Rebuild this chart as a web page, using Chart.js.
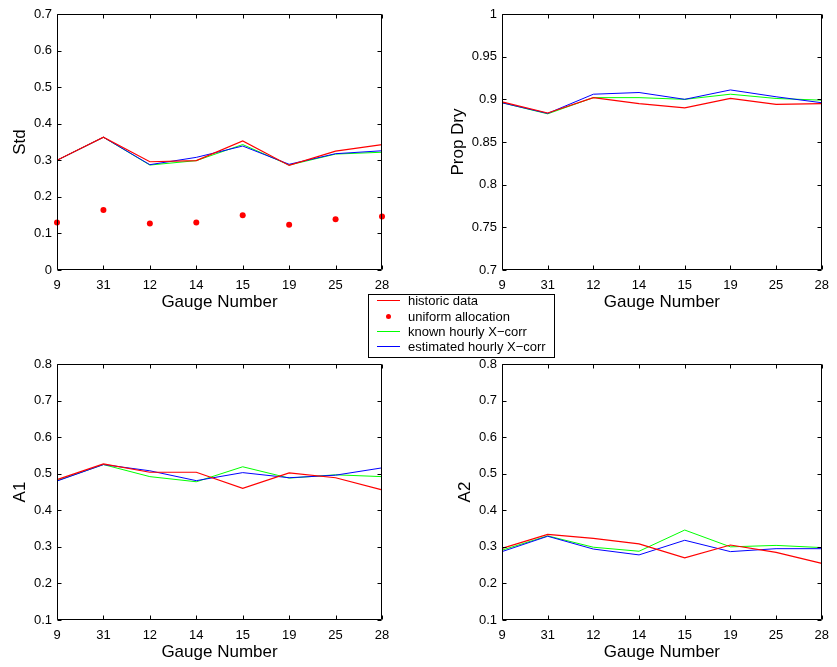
<!DOCTYPE html>
<html>
<head>
<meta charset="utf-8">
<script src="https://cdn.jsdelivr.net/npm/chart.js@4"></script>
<style>
  html, body { margin: 0; padding: 0; background: #fff; }
  body { width: 837px; height: 667px; position: relative; overflow: hidden; font-family: "Liberation Sans", Arial, sans-serif; }
  .pane { position: absolute; }
  #legend { position: absolute; left: 368px; top: 294px; width: 185px; height: 62px; border: 1px solid #000; background: #fff; }
  .row { position: absolute; left: 0; height: 15px; font-size: 13px; line-height: 15px; color: #000; }
  .row .txt { position: absolute; left: 39px; white-space: nowrap; top: 0; }
  .row .ln { position: absolute; left: 8px; width: 23px; top: 7px; height: 1px; }
  .row .dot { position: absolute; left: 17px; top: 5px; width: 5px; height: 5px; border-radius: 50%; background: #ff0000; }
</style>
</head>
<body>
<div class="pane" style="left:0px;top:0px;"><canvas id="c1" width="410" height="320"></canvas></div>
<div class="pane" style="left:420px;top:0px;"><canvas id="c2" width="417" height="320"></canvas></div>
<div class="pane" style="left:0px;top:340px;"><canvas id="c3" width="410" height="327"></canvas></div>
<div class="pane" style="left:420px;top:340px;"><canvas id="c4" width="417" height="327"></canvas></div>
<div id="legend">
  <div class="row" style="top:-2px;"><div class="ln" style="background:#ff0000"></div><span class="txt">historic data</span></div>
  <div class="row" style="top:14px;"><div class="dot"></div><span class="txt">uniform allocation</span></div>
  <div class="row" style="top:29px;"><div class="ln" style="background:#00ff00"></div><span class="txt">known hourly X&#8722;corr</span></div>
  <div class="row" style="top:44px;"><div class="ln" style="background:#0000ff"></div><span class="txt">estimated hourly X&#8722;corr</span></div>
</div>
<script>
const gauges = ['9', '31', '12', '14', '15', '19', '25', '28'];

const stdHistoric  = [0.300, 0.363, 0.296, 0.299, 0.353, 0.286, 0.325, 0.343];
const stdUniform   = [0.130, 0.164, 0.127, 0.130, 0.150, 0.124, 0.139, 0.146];
const stdKnown     = [0.300, 0.363, 0.287, 0.299, 0.343, 0.287, 0.317, 0.322];
const stdEstimated = [0.300, 0.363, 0.288, 0.308, 0.339, 0.289, 0.318, 0.326];

const dryHistoric  = [0.897, 0.884, 0.902, 0.895, 0.890, 0.901, 0.894, 0.895];
const dryKnown     = [0.896, 0.883, 0.902, 0.902, 0.900, 0.906, 0.901, 0.899];
const dryEstimated = [0.896, 0.8835, 0.906, 0.908, 0.900, 0.911, 0.903, 0.896];

const a1Historic   = [0.484, 0.527, 0.504, 0.504, 0.460, 0.502, 0.489, 0.456];
const a1Known      = [0.481, 0.525, 0.492, 0.478, 0.519, 0.488, 0.497, 0.492];
const a1Estimated  = [0.480, 0.525, 0.508, 0.481, 0.503, 0.489, 0.496, 0.516];

const a2Historic   = [0.296, 0.334, 0.323, 0.308, 0.270, 0.305, 0.285, 0.255];
const a2Known      = [0.291, 0.330, 0.299, 0.288, 0.346, 0.300, 0.304, 0.298];
const a2Estimated  = [0.287, 0.329, 0.294, 0.278, 0.318, 0.287, 0.295, 0.295];

const FONT = '"Liberation Sans", Arial, Helvetica, sans-serif';
Chart.defaults.font.family = FONT;
Chart.defaults.color = '#000';

const boxTicks = {
  id: 'boxTicks',
  afterDatasetsDraw(chart) {
    const {ctx, chartArea: a} = chart;
    const xs = chart.scales.x, ys = chart.scales.y;
    ctx.save();
    ctx.strokeStyle = '#000';
    ctx.lineWidth = 1;
    ctx.beginPath();
    const L = Math.round(a.left) + 0.5, R = Math.round(a.right) - 0.5;
    const T = Math.round(a.top) + 0.5, B = Math.round(a.bottom) - 0.5;
    ctx.rect(L, T, R - L, B - T);
    const tl = 4;
    ys.ticks.forEach((t, i) => {
      const y = Math.round(ys.getPixelForTick(i)) + 0.5;
      ctx.moveTo(L, y); ctx.lineTo(L + tl, y);
      ctx.moveTo(R, y); ctx.lineTo(R - tl, y);
    });
    xs.ticks.forEach((t, i) => {
      const x = Math.round(xs.getPixelForTick(i)) + 0.5;
      ctx.moveTo(x, B); ctx.lineTo(x, B - tl);
      ctx.moveTo(x, T); ctx.lineTo(x, T + tl);
    });
    ctx.stroke();
    ctx.restore();
  }
};

function lineDs(label, data, color, order, width) {
  return { label, data, borderColor: color, backgroundColor: color, borderWidth: width || 1,
           pointRadius: 0, pointHoverRadius: 0, tension: 0, fill: false, order };
}

function makeChart(id, cfg) {
  const canvas = document.getElementById(id);
  const W = canvas.width, H = canvas.height;
  const ds = [
    lineDs('known hourly X-corr', cfg.known, '#00ff00', 3),
    lineDs('estimated hourly X-corr', cfg.estimated, '#0000ff', 2),
    lineDs('historic data', cfg.historic, '#ff0000', 1, 1.2)
  ];
  if (cfg.uniform) {
    ds.push({ label: 'uniform allocation', data: cfg.uniform, showLine: false, pointRadius: 3,
              pointBorderWidth: 0, pointBackgroundColor: '#ff0000', pointBorderColor: '#ff0000',
              borderColor: '#ff0000', backgroundColor: '#ff0000', order: 0, clip: false });
  }
  return new Chart(canvas, {
    type: 'line',
    data: { labels: gauges, datasets: ds },
    options: {
      responsive: false,
      animation: false,
      events: [],
      layout: { padding: { left: 0, top: cfg.top, right: W - cfg.right, bottom: 0 } },
      plugins: { legend: { display: false }, tooltip: { enabled: false } },
      scales: {
        x: {
          type: 'category',
          offset: false,
          grid: { display: false, drawTicks: false },
          border: { display: false },
          ticks: { font: { size: 13 }, padding: 8, maxRotation: 0, autoSkip: false, color: '#000' },
          title: { display: true, text: 'Gauge Number', font: { size: 17, lineHeight: 1.2 },
                   padding: { top: 0, bottom: cfg.xTitlePad }, color: '#000' },
          afterFit(s) { s.height = H - cfg.bottom; }
        },
        y: {
          min: cfg.min, max: cfg.max,
          grid: { display: false, drawTicks: false },
          border: { display: false },
          ticks: { stepSize: cfg.step, font: { size: 13 }, padding: 5, color: '#000',
                   callback: v => String(Number(v.toFixed(2))) },
          title: { display: true, text: cfg.yTitle, font: { size: 17, lineHeight: 1.2 },
                   padding: { top: cfg.yTitlePad, bottom: 0 }, color: '#000' },
          afterFit(s) { s.width = cfg.left; }
        }
      }
    },
    plugins: [boxTicks]
  });
}

makeChart('c1', { historic: stdHistoric, known: stdKnown, estimated: stdEstimated, uniform: stdUniform,
  min: 0, max: 0.7, step: 0.1, yTitle: 'Std', left: 57, right: 382, top: 14, bottom: 270,
  yTitlePad: 10, xTitlePad: 7 });
makeChart('c2', { historic: dryHistoric, known: dryKnown, estimated: dryEstimated,
  min: 0.7, max: 1, step: 0.05, yTitle: 'Prop Dry', left: 82, right: 406, top: 14, bottom: 270,
  yTitlePad: 28, xTitlePad: 7 });
makeChart('c3', { historic: a1Historic, known: a1Known, estimated: a1Estimated,
  min: 0.1, max: 0.8, step: 0.1, yTitle: 'A1', left: 57, right: 382, top: 24, bottom: 280,
  yTitlePad: 10, xTitlePad: 4 });
makeChart('c4', { historic: a2Historic, known: a2Known, estimated: a2Estimated,
  min: 0.1, max: 0.8, step: 0.1, yTitle: 'A2', left: 82, right: 406, top: 24, bottom: 280,
  yTitlePad: 35, xTitlePad: 4 });
</script>
</body>
</html>
